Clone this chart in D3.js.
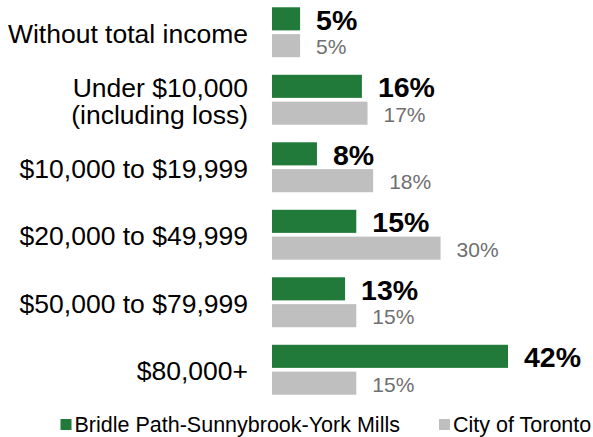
<!DOCTYPE html>
<html>
<head>
<meta charset="utf-8">
<script src="https://cdn.jsdelivr.net/npm/d3@7"></script>
<style>
  body { margin: 0; background: #fff; }
  svg { display: block; font-family: Arial, "Liberation Sans", sans-serif; }
</style>
</head>
<body>
<svg id="chart"></svg>
<script>
var width = 593;
var height = 437;

// data
var categories = [
    "Without total income",
    "Under $10,000|(including loss)",
    "$10,000 to $19,999",
    "$20,000 to $49,999",
    "$50,000 to $79,999",
    "$80,000+"
];
var seriesNames = ["Bridle Path-Sunnybrook-York Mills", "City of Toronto"];
var bridleValues = [5, 16, 8, 15, 13, 42];
var torontoValues = [5, 17, 18, 30, 15, 15];

var greenColor = "#217a3a";
var grayColor = "#bfbfbf";

var svg = d3.select("#chart")
    .attr("width", width)
    .attr("height", height);

var barLeft = 272;

var x = d3.scaleLinear()
    .domain([0, 42])
    .range([0, 236]);

var y = d3.scaleBand()
    .domain(categories)
    .range([-1.5, 403.5])
    .paddingInner(0.26)
    .paddingOuter(0.13);

var ySub = d3.scaleBand()
    .domain(seriesNames)
    .range([0, y.bandwidth()])
    .paddingInner(0.14);

var rows = categories.map(function(c, i) {
    return { cat: c, values: [bridleValues[i], torontoValues[i]] };
});

var row = svg.append("g")
    .selectAll("g")
    .data(rows)
    .enter().append("g")
    .attr("transform", function(d) { return "translate(0," + y(d.cat) + ")"; });

// category labels (two-line label split on "|")
row.append("text")
    .attr("x", 248)
    .attr("y", y.bandwidth() / 2)
    .attr("text-anchor", "end")
    .attr("font-size", 26.5)
    .attr("fill", "#000")
    .each(function(d) {
        var lines = d.cat.split("|");
        var t = d3.select(this);
        var lh = 27;
        lines.forEach(function(line, k) {
            t.append("tspan")
                .attr("x", 248)
                .attr("dy", k === 0 ? (0.35 * 26.5 - (lines.length - 1) * lh / 2 + 1) : lh)
                .text(line);
        });
    });

// bars
row.selectAll("rect")
    .data(function(d) {
        return d.values.map(function(v, j) { return { name: seriesNames[j], value: v, j: j }; });
    })
    .enter().append("rect")
    .attr("x", barLeft)
    .attr("y", function(d) { return ySub(d.name); })
    .attr("width", function(d) { return x(d.value); })
    .attr("height", ySub.bandwidth())
    .attr("fill", function(d) { return d.j === 0 ? greenColor : grayColor; });

// value labels
row.selectAll("text.val")
    .data(function(d) {
        return d.values.map(function(v, j) { return { name: seriesNames[j], value: v, j: j }; });
    })
    .enter().append("text")
    .attr("class", "val")
    .attr("x", function(d) { return barLeft + x(d.value) + 16; })
    .attr("y", function(d) { return ySub(d.name) + ySub.bandwidth() / 2 + 1; })
    .attr("dominant-baseline", "central")
    .attr("font-size", function(d) { return d.j === 0 ? 28.5 : 21; })
    .attr("font-weight", function(d) { return d.j === 0 ? "bold" : "normal"; })
    .attr("fill", function(d) { return d.j === 0 ? "#000" : "#6f6f6f"; })
    .text(function(d) { return d.value + "%"; });

// legend
var legendX = [60.5, 439];
var legend = svg.append("g")
    .selectAll("g")
    .data(seriesNames)
    .enter().append("g")
    .attr("transform", function(d, i) { return "translate(" + legendX[i] + ",419)"; });

legend.append("rect")
    .attr("width", 11)
    .attr("height", 11)
    .attr("fill", function(d, i) { return i === 0 ? greenColor : grayColor; });

legend.append("text")
    .attr("x", 14)
    .attr("y", 5.5)
    .attr("dominant-baseline", "central")
    .attr("font-size", 21.5)
    .attr("fill", "#000")
    .text(function(d) { return d; });
</script>
</body>
</html>
